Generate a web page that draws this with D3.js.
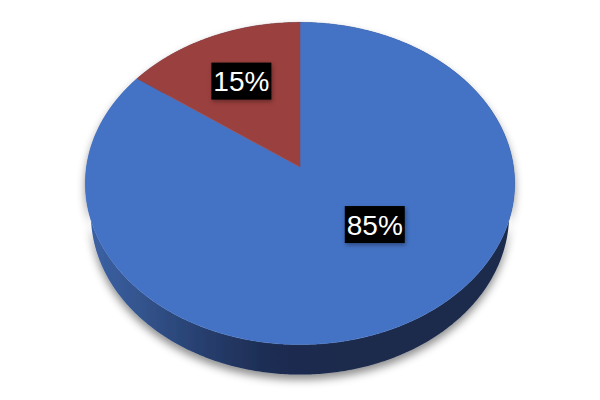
<!DOCTYPE html>
<html>
<head>
<meta charset="utf-8">
<script src="https://cdn.jsdelivr.net/npm/d3@7"></script>
<style>
  html, body { margin: 0; padding: 0; background: #fff; }
  svg { display: block; }
</style>
</head>
<body>
<svg width="600" height="400"></svg>
<script>
// data
var categories = ["A", "B"];
var values = [85, 15];
var labels = ["85%", "15%"];
var topColors = ["#4472C4", "#9A403E"];

var svg = d3.select("svg");

// perspective settings for the tilted pie
var cx = 300, cy = 167,
    focal = 1390,       // projection scale
    dist = 6.51,        // camera distance (in pie radii)
    tilt = 48.3 * Math.PI / 180,
    thick = 0.228;      // pie height (in radii)
var cs = Math.cos(tilt), sn = Math.sin(tilt);

// t: d3 angle (clockwise from 12 o'clock), r: radius fraction, y: height
function project(t, r, y) {
  var X = r * Math.sin(t), Z = -r * Math.cos(t);
  var up = y * cs - Z * sn;
  var depth = dist - (y * sn + Z * cs);
  return [cx + focal * X / depth, cy - focal * up / depth];
}

var pie = d3.pie().sort(null).value(function (d) { return d; });
var arcs = pie(values);

function ring(a0, a1, y) {
  var pts = [], n = Math.max(2, Math.ceil((a1 - a0) / 0.01));
  for (var i = 0; i <= n; i++) pts.push(project(a0 + (a1 - a0) * i / n, 1, y));
  return pts;
}
var line = d3.line();

var defs = svg.append("defs");
var grad = defs.append("linearGradient")
  .attr("id", "side").attr("gradientUnits", "userSpaceOnUse")
  .attr("x1", 86).attr("x2", 515).attr("y1", 0).attr("y2", 0);
[[0, "#3C62A6"], [0.12, "#34558F"], [0.27, "#273F6F"], [0.42, "#1D2D52"], [0.6, "#1B2A4C"], [1, "#1B2A4C"]]
  .forEach(function (s) { grad.append("stop").attr("offset", s[0]).attr("stop-color", s[1]); });

var sh = defs.append("filter").attr("id", "shadow")
  .attr("x", "-20%").attr("y", "-20%").attr("width", "140%").attr("height", "140%");
sh.append("feDropShadow").attr("dx", 0).attr("dy", 5).attr("stdDeviation", 4)
  .attr("flood-color", "#000").attr("flood-opacity", 0.45);

var lsh = defs.append("filter").attr("id", "lshadow")
  .attr("x", "-20%").attr("y", "-20%").attr("width", "140%").attr("height", "140%");
lsh.append("feDropShadow").attr("dx", 1).attr("dy", 2).attr("stdDeviation", 2)
  .attr("flood-color", "#000").attr("flood-opacity", 0.35);

// side wall (whole rim), drawn first
var wall = ring(0, 2 * Math.PI, 0).concat(ring(0, 2 * Math.PI, -thick).reverse());
svg.append("path")
  .attr("d", line(wall) + "Z")
  .attr("fill", "url(#side)")
  .attr("filter", "url(#shadow)");

// top faces
svg.append("g").selectAll("path")
  .data(arcs)
  .enter().append("path")
  .attr("d", function (d) {
    return line([project(0, 0, 0)].concat(ring(d.startAngle, d.endAngle, 0))) + "Z";
  })
  .attr("fill", function (d, i) { return topColors[i]; })
  .attr("stroke", function (d, i) { return topColors[i]; })
  .attr("stroke-width", 0.5);

// data labels: small slices at centroid, large ones closer in
function labelPos(d) {
  var span = d.endAngle - d.startAngle;
  if (span < Math.PI) return project((d.startAngle + d.endAngle) / 2, 0.64, 0);
  return project(d.startAngle + span * 0.444, 0.485, 0);
}

var lab = svg.append("g").selectAll("g")
  .data(arcs)
  .enter().append("g")
  .attr("transform", function (d) { var p = labelPos(d); return "translate(" + p[0] + "," + p[1] + ")"; });

lab.append("rect")
  .attr("x", -30).attr("y", -18.5).attr("width", 60).attr("height", 37)
  .attr("fill", "#000")
  .attr("filter", "url(#lshadow)");

lab.append("text")
  .attr("text-anchor", "middle")
  .attr("dy", "0.36em")
  .style("font-family", "Liberation Sans, Arial, sans-serif")
  .style("font-size", "28px")
  .attr("fill", "#fff")
  .text(function (d, i) { return labels[i]; });
</script>
</body>
</html>
